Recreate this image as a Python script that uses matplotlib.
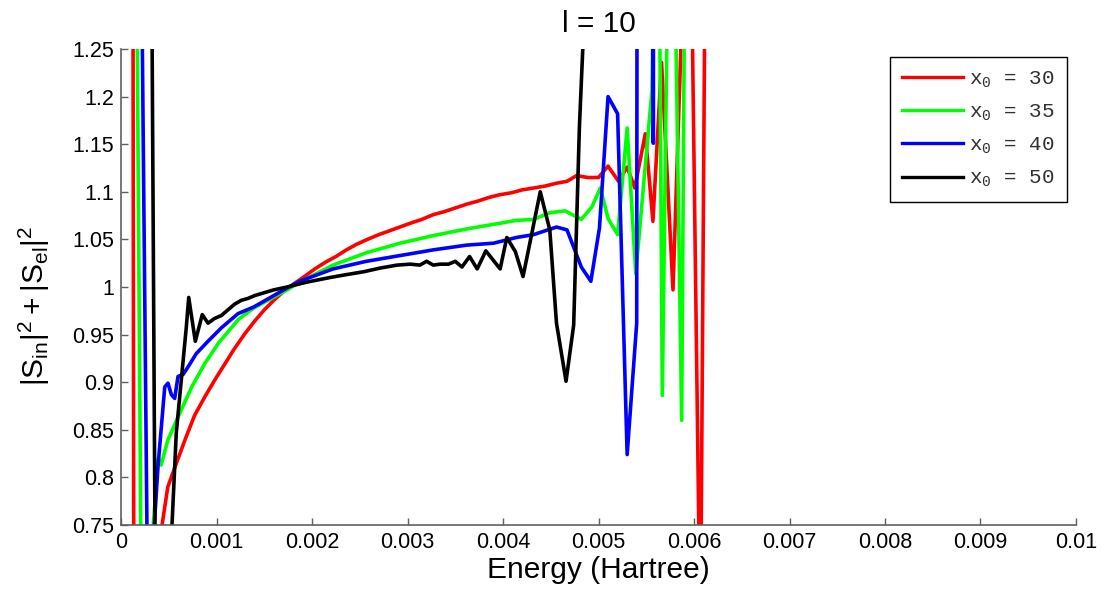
import numpy as np
from matplotlib import pyplot as plt

plt.rcParams['font.family'] = ['Liberation Sans', 'DejaVu Sans']
plt.rcParams['mathtext.fontset'] = 'custom'
plt.rcParams['mathtext.rm'] = 'Liberation Sans'
plt.rcParams['mathtext.tt'] = 'Liberation Mono'

# energies in units of 1e-3 Hartree
e30 = [0.10, 0.15, 0.37, 0.49, 0.58, 0.68, 0.77, 0.88, 0.98, 1.08, 1.18, 1.29, 1.39, 1.50,
       1.61, 1.71, 1.82, 1.92, 2.03, 2.14, 2.25, 2.36, 2.47, 2.58, 2.70, 2.81, 2.92, 3.03,
       3.15, 3.27, 3.38, 3.50, 3.62, 3.73, 3.85, 3.97, 4.09, 4.20, 4.32, 4.44, 4.56, 4.67,
       4.77, 4.89, 5.00, 5.10, 5.21, 5.30, 5.38, 5.49, 5.57, 5.66, 5.78, 5.95, 6.067, 6.12]
s30 = [3.2, -0.5, 0.71, 0.79, 0.815, 0.842, 0.865, 0.885, 0.902, 0.918, 0.934, 0.950, 0.963, 0.976,
       0.987, 0.996, 1.004, 1.011, 1.019, 1.026, 1.032, 1.039, 1.045, 1.050, 1.055, 1.059, 1.063, 1.067,
       1.071, 1.076, 1.079, 1.083, 1.087, 1.090, 1.094, 1.097, 1.099, 1.102, 1.104, 1.106, 1.109, 1.111,
       1.117, 1.115, 1.115, 1.127, 1.111, 1.126, 1.104, 1.161, 1.069, 1.236, 0.997, 1.52, 0.62, 1.4]

e35 = [0.15, 0.24, 0.33, 0.39, 0.42, 0.49, 0.60, 0.74, 0.88, 1.02, 1.23, 1.39, 1.74, 1.87,
       2.22, 2.57, 2.92, 3.27, 3.62, 3.97, 4.14, 4.32, 4.49, 4.65, 4.82, 4.93, 5.02, 5.10,
       5.20, 5.30, 5.39, 5.56, 5.62, 5.668, 5.76, 5.871, 5.92]
s35 = [1.55, 0.27, 0.74, 0.820, 0.813, 0.839, 0.864, 0.895, 0.920, 0.941, 0.966, 0.978, 0.997, 1.005,
       1.023, 1.036, 1.046, 1.054, 1.061, 1.067, 1.070, 1.071, 1.078, 1.080, 1.071, 1.084, 1.104, 1.072,
       1.055, 1.167, 1.014, 1.207, 1.6, 0.886, 1.6, 0.860, 1.6]

e40 = [0.20, 0.30, 0.33, 0.387, 0.458, 0.492, 0.527, 0.562, 0.597, 0.649, 0.702, 0.788, 0.911,
       1.05, 1.225, 1.39, 1.74, 1.87, 2.22, 2.57, 2.92, 3.27, 3.62, 3.90, 4.14, 4.32, 4.56,
       4.67, 4.82, 4.92, 5.01, 5.10, 5.20, 5.30, 5.40, 5.47, 5.574, 5.65]
s40 = [1.5, 0.45, 0.72, 0.811, 0.895, 0.899, 0.887, 0.883, 0.906, 0.908, 0.916, 0.930, 0.943,
       0.957, 0.972, 0.979, 0.999, 1.006, 1.019, 1.027, 1.033, 1.039, 1.044, 1.046, 1.052, 1.055, 1.063,
       1.060, 1.021, 1.006, 1.062, 1.200, 1.182, 0.824, 0.962, 8.0, 1.151, 8.0]

e50 = [0.30, 0.37, 0.52, 0.579, 0.684, 0.709, 0.778, 0.851, 0.911, 0.981, 1.05, 1.12, 1.19,
       1.26, 1.33, 1.40, 1.50, 1.60, 1.74, 1.82, 1.94, 2.19, 2.36, 2.54, 2.72, 2.89, 3.03,
       3.13, 3.20, 3.27, 3.34, 3.43, 3.50, 3.57, 3.65, 3.73, 3.82, 3.97, 4.04, 4.13, 4.21,
       4.39, 4.49, 4.56, 4.66, 4.74, 4.80, 4.90]
s50 = [1.7, 0.5, 0.72, 0.847, 0.958, 0.989, 0.943, 0.971, 0.962, 0.967, 0.970, 0.976, 0.982,
       0.986, 0.988, 0.991, 0.994, 0.997, 1.000, 1.002, 1.005, 1.010, 1.013, 1.016, 1.020, 1.023, 1.024,
       1.023, 1.027, 1.023, 1.024, 1.024, 1.027, 1.021, 1.032, 1.019, 1.038, 1.019, 1.052, 1.037, 1.011,
       1.100, 1.060, 0.962, 0.901, 0.960, 1.168, 1.40]

labels = ['30', '35', '40', '50']
colors = ['#ff0000', '#00ff00', '#0000ff', '#000000']

xticks = [0, 0.001, 0.002, 0.003, 0.004, 0.005, 0.006, 0.007, 0.008, 0.009, 0.01]
xticklabels = ['0', '0.001', '0.002', '0.003', '0.004', '0.005', '0.006', '0.007', '0.008', '0.009', '0.01']
yticks = [0.75, 0.8, 0.85, 0.9, 0.95, 1, 1.05, 1.1, 1.15, 1.2, 1.25]
yticklabels = ['0.75', '0.8', '0.85', '0.9', '0.95', '1', '1.05', '1.1', '1.15', '1.2', '1.25']

fig = plt.figure(figsize=(11.04, 5.93), dpi=100)
ax = fig.add_axes([121/1104, 1 - 525/593, 955/1104, 476/593])

for e, s, lab, c in zip([e30, e35, e40, e50], [s30, s35, s40, s50], labels, colors):
    ax.plot(np.array(e) * 1e-3, s, '-', color=c, lw=2.6,
            label=r'x$_{\mathtt{0}}$ = ' + lab)

ax.set_xlim(0, 0.01)
ax.set_ylim(0.75, 1.25)
ax.set_xticks(xticks)
ax.set_xticklabels(xticklabels)
ax.set_yticks(yticks)
ax.set_yticklabels(yticklabels)
ax.tick_params(direction='in', length=5, width=1, color='#606060', labelsize=15.5, pad=5)

for side in ['top', 'right']:
    ax.spines[side].set_visible(False)
for side in ['left', 'bottom']:
    ax.spines[side].set_color('#606060')
    ax.spines[side].set_linewidth(1.2)

ax.set_xlabel('Energy (Hartree)', fontsize=21.5, labelpad=2)
ax.set_ylabel(r'$\mathregular{|S_{in}|^2+|S_{el}|^2}$', fontsize=21.5)
ax.yaxis.set_label_coords(-0.072, 0.46)
ax.set_title('l = 10', fontsize=21.5, pad=12)

leg = ax.legend(loc='upper right', bbox_to_anchor=(1067/1104, 1 - 57/593),
                bbox_transform=fig.transFigure, fancybox=False, framealpha=1,
                edgecolor='black', prop={'family': 'Liberation Mono', 'size': 15},
                handlelength=2.9, handletextpad=0.3, labelspacing=0.6,
                borderpad=0.6, borderaxespad=0)
leg.get_frame().set_linewidth(1.0)
for t in leg.get_texts():
    t.set_color('#303030')
for l in leg.get_lines():
    l.set_linewidth(2.4)

fig.savefig('out.png', dpi=100)
